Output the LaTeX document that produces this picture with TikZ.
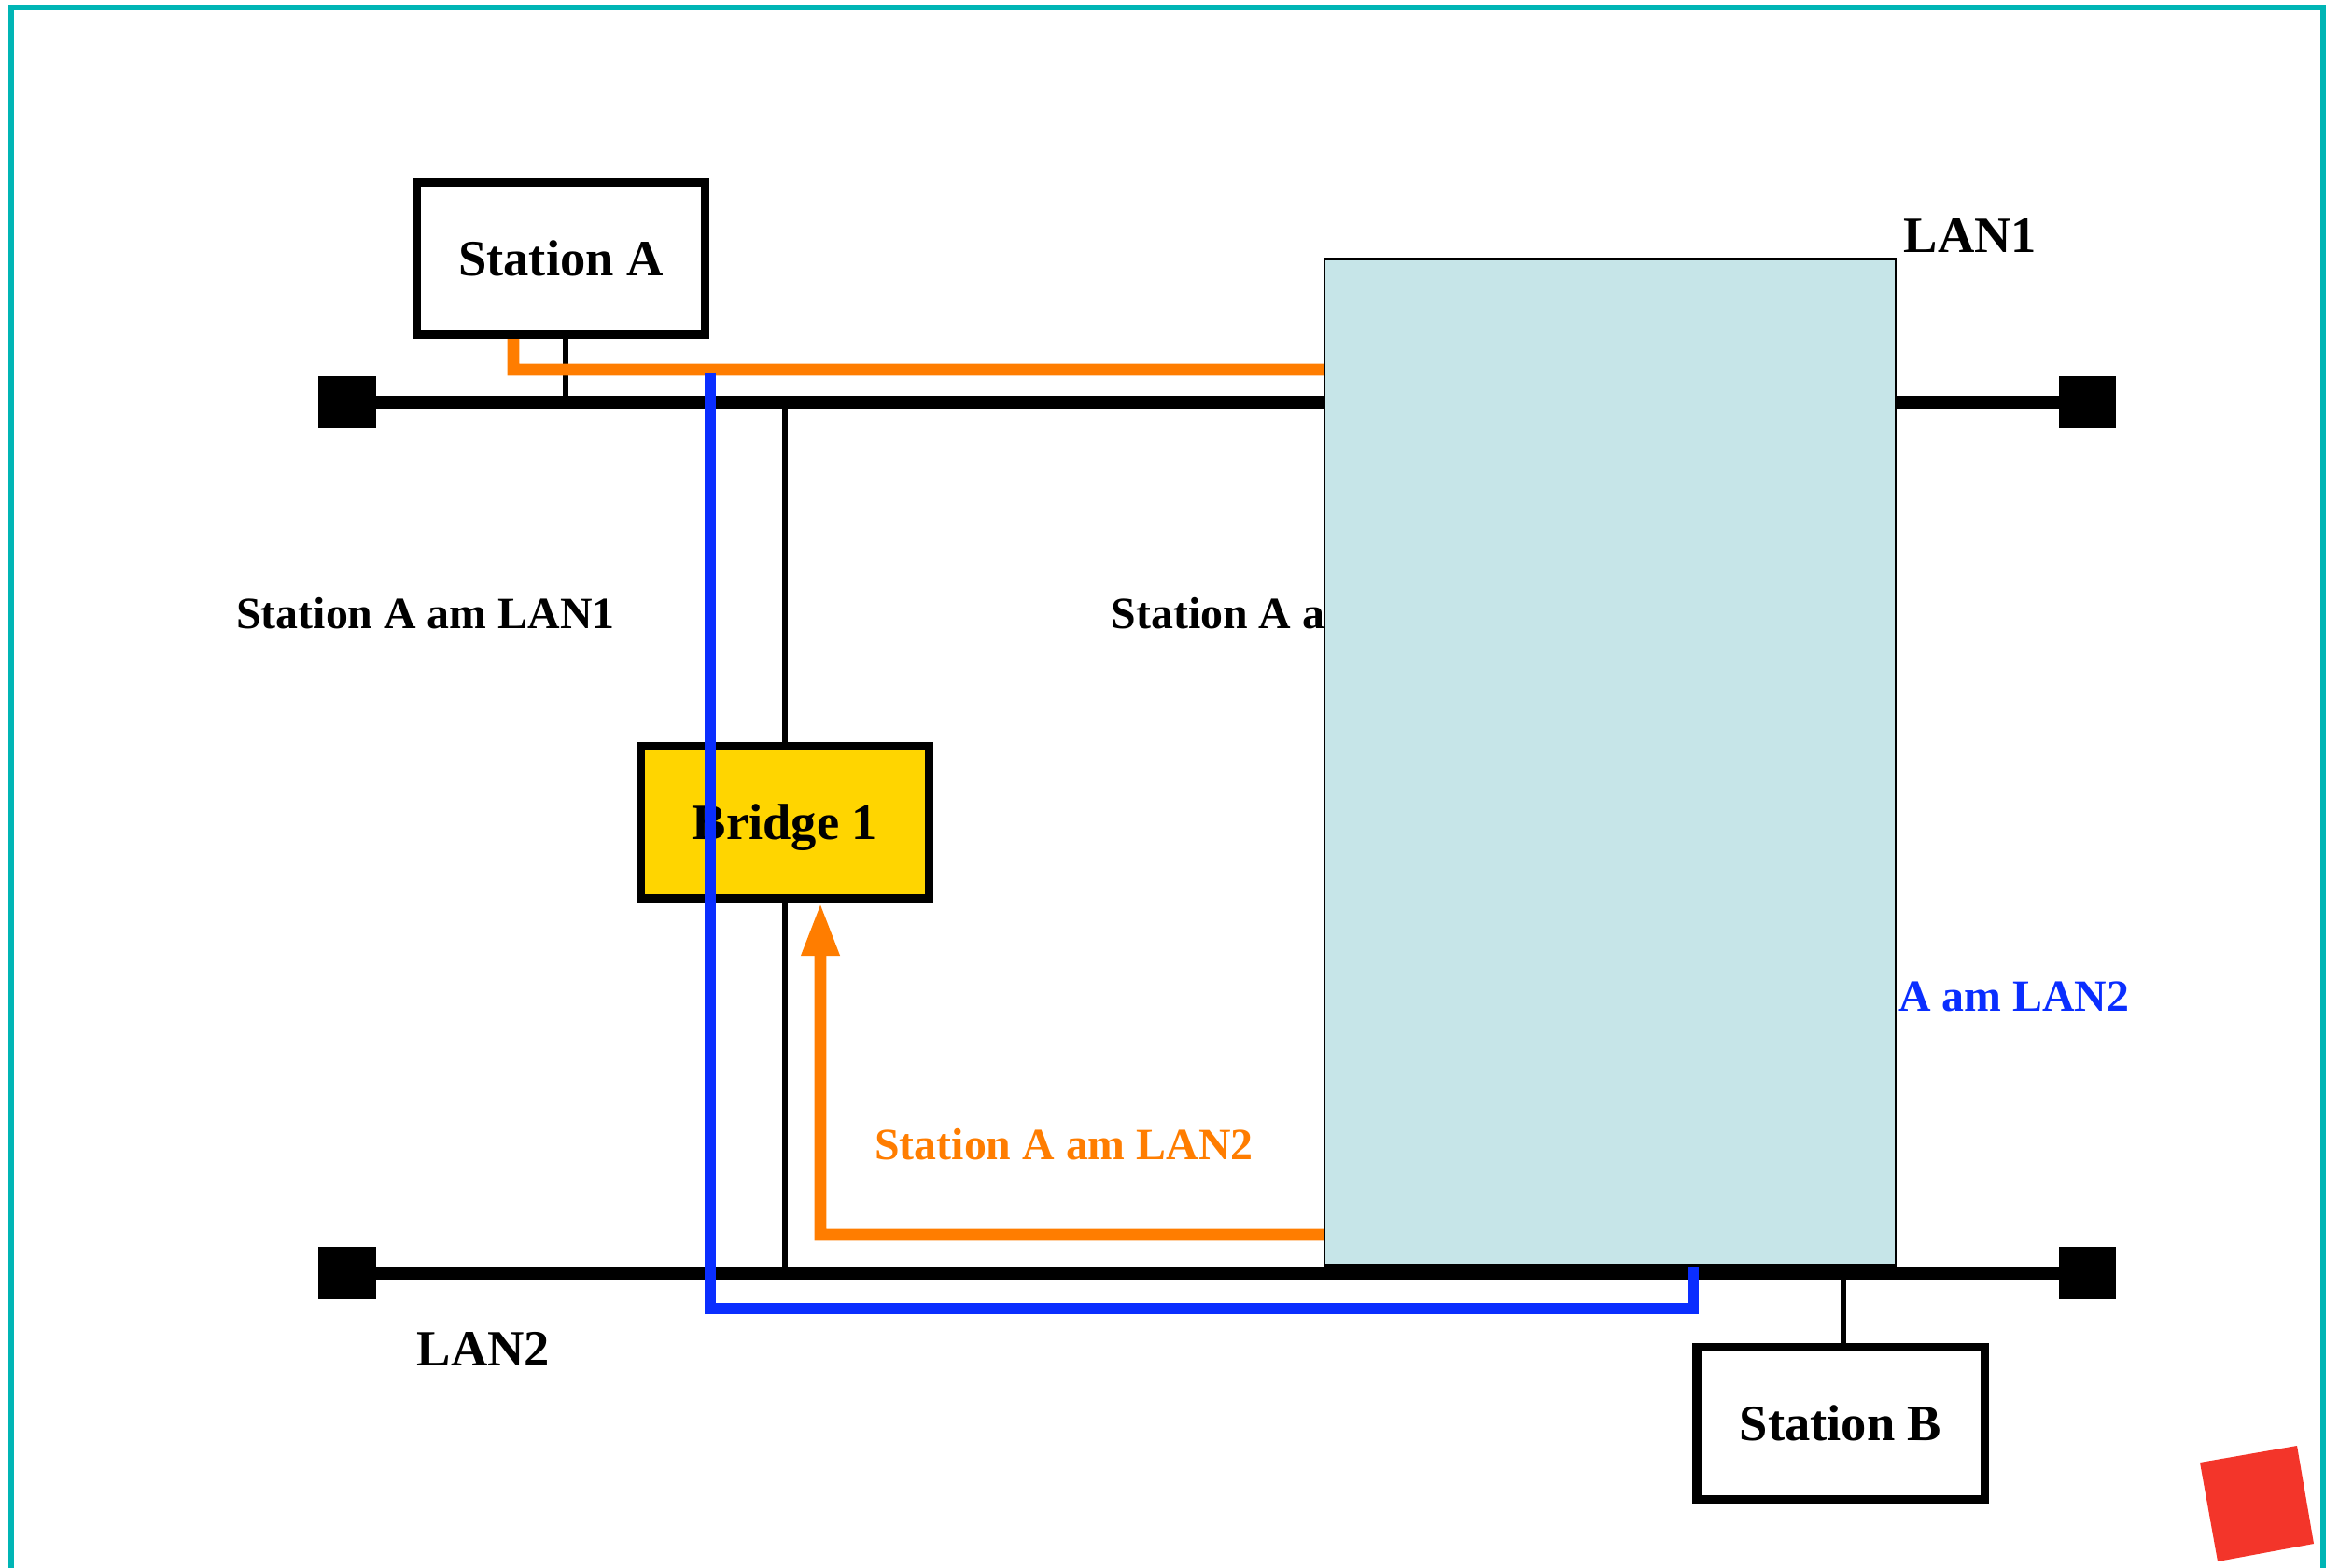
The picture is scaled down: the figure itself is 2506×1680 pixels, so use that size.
\documentclass[tikz,border=0pt]{standalone}
\usepackage{fontspec}
\setmainfont{Liberation Serif}
\usetikzlibrary{arrows.meta}
\definecolor{frameteal}{HTML}{00B5B5}
\definecolor{bridgegold}{HTML}{FFD500}
\definecolor{lanorange}{HTML}{FF7D00}
\definecolor{lanblue}{HTML}{0A2EFF}
\definecolor{coverblue}{HTML}{C6E5E8}
\definecolor{markred}{HTML}{F3352A}
\begin{document}
\begin{tikzpicture}[x=0.01cm,y=-0.01cm,line join=miter,
    stabox/.style={draw,line width=2.6pt,fill=white,inner sep=0pt,minimum width=3.08cm,minimum height=1.63cm,
      font=\bfseries\fontsize{15.5}{18}\selectfont,text height=10.5pt,text depth=0pt},
    term/.style={fill=black,inner sep=0pt,minimum width=0.61cm,minimum height=0.55cm},
    bus/.style={line width=3.9pt},
    drop/.style={line width=1.8pt},
    lbl/.style={anchor=base,inner sep=0pt,font=\bfseries\fontsize{13.6}{16}\selectfont},
    lanlbl/.style={anchor=base,inner sep=0pt,font=\bfseries\fontsize{15.5}{18}\selectfont},
    orangeway/.style={draw=lanorange,line width=3.6pt},
    blueway/.style={draw=lanblue,line width=3.6pt},
    cover/.style={draw,line width=0.7pt,fill=coverblue,inner sep=0pt,minimum width=6.12cm,minimum height=10.77cm}]
  \useasboundingbox (0,0) rectangle (2506,1680);
  \clip (0,0) rectangle (2506,1680);
  \draw[frameteal,line width=1.45pt] (12,8) rectangle (2489,1720);
  % Texte, die spaeter vom Kasten verdeckt werden
  \node[lbl,anchor=base west] (l1mid) at (1190,674) {Station A am LAN1};
  \node[lbl,anchor=base east,text=lanblue] (l2blue) at (2282,1084) {Station A am LAN2};
  % LAN1 und LAN2
  \node[term] (t1l) at (372,431) {};
  \node[term] (t1r) at (2236,431) {};
  \node[term] (t2l) at (372,1364) {};
  \node[term] (t2r) at (2236,1364) {};
  \draw[bus] (t1l.center) -- (t1r.center);
  \draw[bus] (t2l.center) -- (t2r.center);
  % Stationen und Bridge
  \node[stabox] (staA) at (601,277) {Station A};
  \node[stabox] (staB) at (1972,1525) {Station B};
  \node[stabox,fill=bridgegold] (bridge) at (841,881) {Bridge 1};
  \draw[drop] ([xshift=0.05cm]staA.south) -- ([xshift=0.05cm]staA.south |- t1l.center);
  \draw[drop] ([xshift=0.03cm]staB.north) -- ([xshift=0.03cm]staB.north |- t2l.center);
  \draw[drop] (bridge.north) -- (bridge.north |- t1l.center);
  \draw[drop] (bridge.south) -- (bridge.south |- t2l.center);
  \node[lbl] (l1left) at (456,674) {Station A am LAN1};
  \node[lbl,text=lanorange] (l2orange) at (1140,1242) {Station A am LAN2};
  % Wege der Rahmen
  \draw[orangeway,-{Triangle[length=5.7mm,width=3.8mm]}] ([xshift=-0.51cm]staA.south) |- (1600,396)
    |- (879,1323) -- ([xshift=0.38cm]bridge.south);
  \coordinate (bstart) at (761,400);
  \coordinate (bend) at (1814,1350);
  \draw[blueway] (bstart) |- (1814,1402) -- (bend);
  \node[cover] (lanbox) at (1725,816.5) {};
  \node[lanlbl] (lan1lbl) at (2111,271) {LAN1};
  \node[lanlbl] (lan2lbl) at (518,1463) {LAN2};
  \fill[markred] (2357,1567) -- (2461,1549) -- (2479,1654) -- (2376,1673) -- cycle;
\end{tikzpicture}
\end{document}
